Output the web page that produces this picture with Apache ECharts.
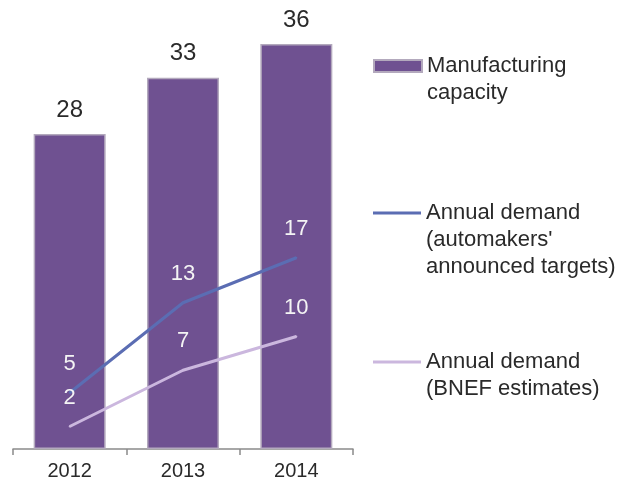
<!DOCTYPE html>
<html>
<head>
<meta charset="utf-8">
<script src="https://cdn.jsdelivr.net/npm/echarts@6/dist/echarts.min.js"></script>
<style>
  html, body { margin: 0; padding: 0; background: #fff; }
  #chart { width: 635px; height: 491px; }
</style>
</head>
<body>
<div id="chart"></div>
<script>
// Battery manufacturing capacity vs. annual demand
const years = ['2012', '2013', '2014'];
const capacity = [28, 33, 36];
const demandAutomakers = [5, 13, 17];
const demandBNEF = [2, 7, 10];

const nameCapacity = 'Manufacturing\ncapacity';
const nameAutomakers = "Annual demand\n(automakers'\nannounced targets)";
const nameBNEF = 'Annual demand\n(BNEF estimates)';

const FONT = '"Liberation Sans", Arial, sans-serif';
const TEXT = '#2a2a2a';
const LINE_H = 27;

// One legend per series; blank lines are prepended so that the icon,
// which is centred on the text block, lines up with the first text line.
function legendFor(name, iconY, iconH) {
  const lines = name.split('\n').length;
  const blockH = (2 * lines - 1) * LINE_H;
  return {
    data: [name],
    left: 373,
    top: iconY - blockH / 2,
    padding: 0,
    icon: 'rect',
    itemWidth: 48,
    itemHeight: iconH,
    itemGap: 5,
    selectedMode: false,
    formatter: n => '\n'.repeat(lines - 1) + n,
    textStyle: {
      fontFamily: FONT,
      fontSize: 22,
      color: TEXT,
      lineHeight: LINE_H
    }
  };
}

const chart = echarts.init(document.getElementById('chart'));
chart.setOption({
  animation: false,
  backgroundColor: '#ffffff',
  grid: { left: 13, top: 44, width: 340, bottom: 42, containLabel: false },
  legend: [
    legendFor(nameCapacity, 66, 12),
    legendFor(nameAutomakers, 213, 3),
    legendFor(nameBNEF, 362, 3)
  ],
  xAxis: {
    type: 'category',
    data: years,
    boundaryGap: true,
    axisLine: { lineStyle: { color: '#8a8a8a', width: 1.5 } },
    axisTick: { show: true, length: 6, lineStyle: { color: '#8a8a8a', width: 1.5 } },
    axisLabel: { fontFamily: FONT, fontSize: 20, color: TEXT, margin: 12 }
  },
  yAxis: {
    type: 'value',
    min: 0,
    max: 36,
    show: false,
    splitLine: { show: false }
  },
  series: [
    {
      name: nameCapacity,
      type: 'bar',
      data: capacity,
      barWidth: 72,
      itemStyle: { color: '#6f5191', borderColor: '#b3a9bd', borderWidth: 1.5 },
      label: {
        show: true,
        position: 'top',
        distance: 12,
        fontFamily: FONT,
        fontSize: 24,
        color: TEXT
      },
      z: 1
    },
    {
      name: nameAutomakers,
      type: 'line',
      data: demandAutomakers,
      symbol: 'circle',
      symbolSize: 2,
      lineStyle: { color: '#5b6db3', width: 3 },
      itemStyle: { color: '#5b6db3' },
      label: {
        show: true,
        position: 'top',
        distance: 17,
        fontFamily: FONT,
        fontSize: 22,
        color: '#f4f4f4'
      },
      z: 3
    },
    {
      name: nameBNEF,
      type: 'line',
      data: demandBNEF,
      symbol: 'circle',
      symbolSize: 2,
      lineStyle: { color: '#cbb7de', width: 3 },
      itemStyle: { color: '#cbb7de' },
      label: {
        show: true,
        position: 'top',
        distance: 17,
        fontFamily: FONT,
        fontSize: 22,
        color: '#f4f4f4'
      },
      z: 3
    }
  ]
});
</script>
</body>
</html>
